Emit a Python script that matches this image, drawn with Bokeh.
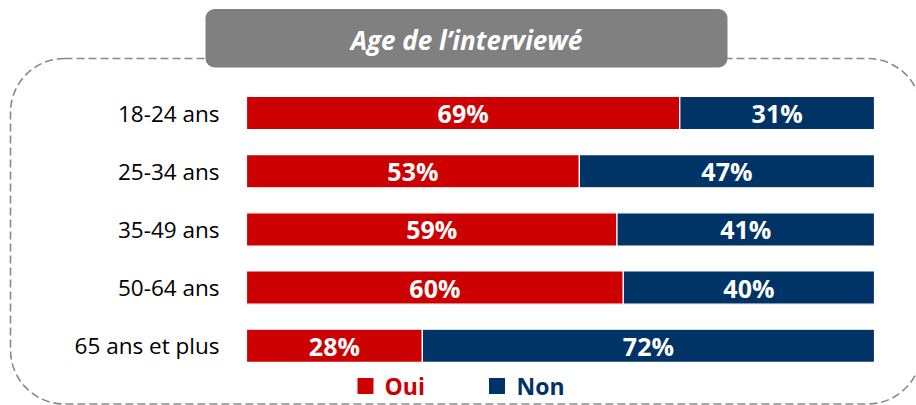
from bokeh.plotting import figure
from bokeh.models import Range1d
from bokeh.core.properties import value
from bokeh.embed import file_html
from bokeh.resources import INLINE

categories = ["18-24 ans", "25-34 ans", "35-49 ans", "50-64 ans", "65 ans et plus"]
oui = [69, 53, 59, 60, 28]
non = [31, 47, 41, 40, 72]
series = ["Oui", "Non"]
colors = ["#CC0000", "#003366"]
title = "Age de l\u2019interviewé"

W, H = 916, 405
# picture pixel -> data mapping helpers (layout only)
PX0, PX100 = 246.0, 874.0
PXU = (PX100 - PX0) / 100.0
PY0, PYSTEP = 112.5, 58.2


def X(px):
    return (px - PX0) / PXU


def Y(py):
    return (py - PY0) / PYSTEP


p = figure(width=W, height=H, output_backend="svg", toolbar_location=None,
           x_range=Range1d(X(0), X(W)), y_range=Range1d(Y(H), Y(0)),
           x_axis_location=None, y_axis_location=None, min_border=0)
p.grid.visible = False
p.outline_line_color = None
p.background_fill_color = "white"

FONT = value("Open Sans")

# dashed rounded frame
p.quad(left=X(10), right=X(921), top=Y(58), bottom=Y(403.5), fill_color=None,
       line_color="#888888", line_dash="8 4", line_width=1.6, border_radius=54)
# title box
p.quad(left=X(205), right=X(727), top=Y(8.5), bottom=Y(67), fill_color="#808080",
       line_color=None, border_radius=9)
p.text(x=[X(466)], y=[Y(39)], text=[title], text_font=FONT, text_font_style="bold italic",
       text_font_size="26px", text_color="white", text_align="center", text_baseline="middle")

ys = list(range(len(categories)))
right_non = [a + b for a, b in zip(oui, non)]
p.hbar(y=ys, left=0, right=oui, height=0.57, fill_color=colors[0], line_color="white", line_width=1.2)
p.hbar(y=ys, left=oui, right=right_non, height=0.57, fill_color=colors[1], line_color="white", line_width=1.2)

p.text(x=[v / 2 for v in oui], y=ys, text=[f"{v}%" for v in oui], text_font=FONT,
       text_font_style="bold", text_font_size="25px", text_color="white",
       text_align="center", text_baseline="middle")
p.text(x=[a + b / 2 for a, b in zip(oui, non)], y=ys, text=[f"{v}%" for v in non], text_font=FONT,
       text_font_style="bold", text_font_size="25px", text_color="white",
       text_align="center", text_baseline="middle")

# category labels
p.text(x=[X(219)] * len(categories), y=ys, text=categories, text_font=FONT,
       text_font_size="22.5px", text_color="#000000", text_align="right", text_baseline="middle")

# legend
leg_sq_x = [X(365), X(496.5)]
leg_tx_x = [X(384), X(516)]
p.scatter(x=leg_sq_x, y=[Y(385.5)] * 2, marker="square", size=16, fill_color=colors, line_color=None)
p.text(x=leg_tx_x, y=[Y(385.5)] * 2, text=series, text_font=FONT, text_font_style="bold",
       text_font_size="23px", text_color=colors, text_align="left", text_baseline="middle")

open("out.html", "w").write(file_html(p, INLINE))
